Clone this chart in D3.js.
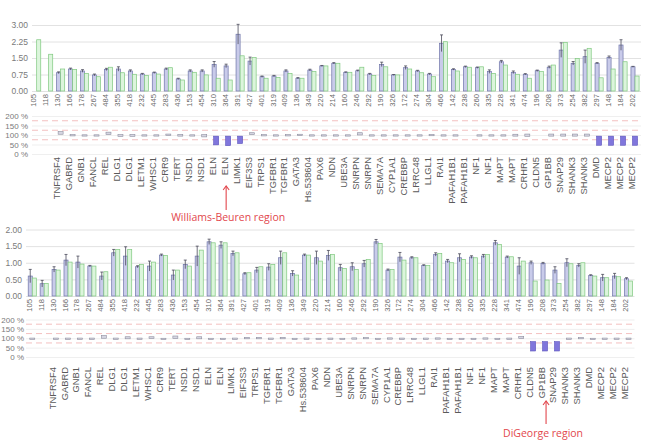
<!DOCTYPE html>
<html lang="en">
<head>
<meta charset="UTF-8">
<title>MLPA probe ratios</title>
<script src="https://cdn.jsdelivr.net/npm/d3@7/dist/d3.min.js"></script>
<style>
  * { margin: 0; padding: 0; box-sizing: border-box; }
  body { background: #fff; width: 645px; height: 442px; overflow: hidden; }
  text { font-family: 'Liberation Sans', Arial, sans-serif; }
  .ax text { fill: #7a7a7a; font-size: 8.5px; }
  .ax.pct text { font-size: 8px; }
  .ax .domain { display: none; }
  .num { fill: #6a6a6a; font-size: 7.6px; }
  .gene { fill: #5a5a5a; font-size: 9.4px; }
  .note { fill: #e2474d; font-family: 'Open Sans', sans-serif; font-size: 10.5px; }
</style>
</head>
<body>
<div id="chart"></div>
<script>
// ─── Data ────────────────────────────────────────────────────────────────────

const probes = ['105','118','130','166','178','267','484','355','418','232','445','283','436','153','454',
  '310','364','391','427','401','319','409','136','349','220','214','160','246','292','190','326','172',
  '274','304','466','142','238','260','335','228','341','474','196','208','373','254','382','297','148','184','202'];

const genes = ['','','TNFRSF4','GABRD','GNB1','FANCL','REL','DLG1','DLG1','LETM1','WHSC1','CRR9','TERT',
  'NSD1','NSD1','ELN','ELN','LIMK1','EIF3S3','TRPS1','TGFBR1','TGFBR1','GATA3','Hs.538604','PAX6','NDN',
  'UBE3A','SNRPN','SNRPN','SEMA7A','CYP1A1','CREBBP','LRRC48','LLGL1','RAI1','PAFAH1B1','PAFAH1B1','NF1',
  'NF1','MAPT','MAPT','CRHR1','CLDN5','GP1BB','SNAP29','SHANK3','SHANK3','DMD','MECP2','MECP2','MECP2'];

// top sample
const topBlue  = [null,null,0.83,1.00,0.91,0.73,0.98,1.00,0.91,0.77,0.83,1.00,0.55,0.91,0.91,1.21,1.14,2.58,
  1.36,0.65,0.68,0.91,0.58,0.95,1.14,1.26,0.85,0.92,0.77,1.21,0.73,1.06,0.91,0.77,2.17,0.98,1.10,1.06,0.88,
  1.33,0.85,0.76,0.92,1.08,1.86,1.26,1.56,1.26,1.53,2.09,1.10];
const topGreen = [2.33,1.67,1.00,0.98,0.80,0.65,1.08,0.83,0.76,0.70,0.77,1.06,0.50,0.85,0.73,0.58,0.50,1.60,
  1.52,0.58,0.62,0.80,0.58,0.88,1.14,1.26,0.85,1.08,0.70,1.10,0.73,1.00,0.83,0.65,2.24,0.91,1.08,1.10,0.80,
  1.18,0.76,0.58,0.88,1.18,2.21,1.48,1.94,0.60,1.00,1.33,0.68];
const topErr   = [0,0,0.04,0.04,0.06,0.04,0.05,0.10,0.05,0.03,0.03,0.04,0.03,0.05,0.05,0.13,0.08,0.45,
  0.18,0.03,0.03,0.05,0.03,0.04,0.02,0.03,0.02,0.03,0.03,0.10,0.02,0.08,0.03,0.03,0.38,0.03,0.03,0.03,0.08,
  0.06,0.06,0.03,0.03,0.05,0.33,0.08,0.30,0.03,0.06,0.24,0.02];
const topPctLo = [null,null,104,98,97,96,102,92,93,96,96,100,94,99,90,48,44,55,102,97,98,95,99,96,99,
  98,98,100,98,98,99,98,98,96,97,98,null,98,98,98,94,93,null,94,94,94,94,46,46,46,46];
const topPctHi = [null,null,118,102,101,101,115,102,103,101,101,105,103,101,102,94,94,94,112,102,101,102,104,101,101,
  101,101,112,101,101,101,101,101,103,101,101,null,101,101,101,104,105,null,105,105,105,105,94,94,94,94];

// bottom sample
const botBlue  = [0.60,0.37,0.80,1.08,1.02,0.90,0.60,1.30,1.20,0.88,0.90,1.23,0.63,0.95,1.20,1.63,1.53,1.28,
  0.67,0.78,0.87,1.15,0.68,1.23,1.15,1.22,0.85,0.88,0.97,1.63,0.78,1.17,1.15,0.92,1.25,1.05,1.15,1.17,1.20,
  1.60,1.17,0.90,1.00,0.98,0.78,1.00,0.92,0.62,0.55,0.60,0.52];
const botGreen = [0.54,0.38,0.78,1.02,0.96,0.90,0.73,1.40,1.40,0.95,1.02,1.22,0.78,0.90,1.38,1.60,1.60,1.30,
  0.70,0.88,0.95,1.30,0.63,1.23,1.05,1.25,0.83,0.80,1.10,1.58,0.80,1.08,1.15,0.92,1.28,1.00,1.10,1.15,1.25,
  1.55,1.18,1.05,0.45,0.48,0.38,0.97,1.00,0.60,0.55,0.58,0.45];
const botErr   = [0.20,0.10,0.08,0.17,0.18,0.02,0.12,0.10,0.28,0.03,0.15,0.03,0.15,0.13,0.30,0.08,0.10,0.07,
  0.03,0.08,0.10,0.20,0.08,0.03,0.20,0.15,0.10,0.12,0.10,0.07,0.03,0.14,0.03,0.02,0.05,0.05,0.12,0.04,0.05,
  0.07,0.03,0.25,0.05,0.03,0.10,0.12,0.05,0.02,0.10,0.08,0.03];
const botPctLo = [96,null,99,98,96,99,100,97,97,98,98,99,98,99,97,99,99,98,97,97,98,97,99,99,97,
  99,99,98,99,99,98,98,99,99,98,99,99,99,98,99,98,98,32,32,32,98,97,99,98,99,97];
const botPctHi = [101,null,101,101,101,101,115,101,108,101,108,100,112,100,108,100,100,101,105,105,101,105,100,101,100,
  101,100,102,104,100,102,101,100,101,102,100,100,100,102,100,101,110,82,82,82,101,104,100,101,101,101];

const barTicksTop = [0, 0.75, 1.5, 2.25, 3];
const barTicksBot = [0, 0.5, 1, 1.5, 2];
const pctTicks    = [0, 50, 100, 150, 200];
const pctLimits   = [75, 125, 175];

// ─── Drawing ─────────────────────────────────────────────────────────────────

const svg = d3.select('#chart').append('svg').attr('width', 645).attr('height', 442);

function drawSet(o) {
  const x = d3.scaleBand().domain(probes).range(o.xRange);
  const y = d3.scaleLinear().domain([0, o.yMax]).range(o.yRange);
  const p = d3.scaleLinear().domain([0, 200]).range(o.pRange);
  const bw = x.bandwidth() * 0.34;
  const cx = i => x(probes[i]) + x.bandwidth() / 2;
  const right = o.xRange[1];
  const g = svg.append('g');

  // bar axis + grid
  g.append('g').attr('class', 'ax')
    .attr('transform', `translate(${o.axisX},0)`)
    .call(d3.axisLeft(y).tickValues(o.ticks).tickFormat(d3.format('.2f'))
      .tickSize(-(right - o.axisX)).tickPadding(4))
    .call(s => s.selectAll('line').attr('stroke', '#e2e2e2'));

  // bars
  const rows = probes.map((k, i) => ({ i, b: o.blue[i], gr: o.green[i], e: o.err[i], lo: o.lo[i], hi: o.hi[i] }));

  g.selectAll('.bb').data(rows.filter(d => d.b != null)).enter().append('rect')
    .attr('x', d => cx(d.i) - bw).attr('width', bw)
    .attr('y', d => y(d.b)).attr('height', d => y(0) - y(d.b))
    .attr('fill', '#c9cbea').attr('stroke', '#6e74a8').attr('stroke-width', 0.7);

  g.selectAll('.gb').data(rows.filter(d => d.gr != null)).enter().append('rect')
    .attr('x', d => cx(d.i)).attr('width', bw)
    .attr('y', d => y(d.gr)).attr('height', d => y(0) - y(d.gr))
    .attr('fill', '#dcf5dc').attr('stroke', '#7fc87f').attr('stroke-width', 0.7);

  // error bars on blue
  const eb = g.selectAll('.eb').data(rows.filter(d => d.b != null && d.e > 0)).enter().append('g')
    .attr('stroke', '#4a4a5a').attr('stroke-width', 0.8);
  eb.append('line')
    .attr('x1', d => cx(d.i) - bw / 2).attr('x2', d => cx(d.i) - bw / 2)
    .attr('y1', d => y(d.b - d.e)).attr('y2', d => y(d.b + d.e));
  eb.append('line')
    .attr('x1', d => cx(d.i) - bw / 2 - 1.5).attr('x2', d => cx(d.i) - bw / 2 + 1.5)
    .attr('y1', d => y(d.b + d.e)).attr('y2', d => y(d.b + d.e));

  // probe numbers
  g.selectAll('.num').data(probes).enter().append('text').attr('class', 'num')
    .attr('text-anchor', 'end')
    .attr('transform', (d, i) => `translate(${cx(i) - 0.5},${o.numY}) rotate(-90)`)
    .text(d => d);

  // percentage panel
  g.append('g').attr('class', 'ax pct')
    .attr('transform', `translate(${o.axisX},0)`)
    .call(d3.axisLeft(p).tickValues(pctTicks).tickFormat(d => d + ' %')
      .tickSize(-(right - o.axisX)).tickPadding(o.pctPad))
    .call(s => s.selectAll('line').attr('stroke', '#efefef'));

  g.selectAll('.lim').data(pctLimits).enter().append('line')
    .attr('x1', o.axisX).attr('x2', right)
    .attr('y1', d => p(d)).attr('y2', d => p(d))
    .attr('stroke', '#f2b9b9').attr('stroke-width', 0.9).attr('stroke-dasharray', '6,4');

  const pw = 5;
  g.selectAll('.pbox').data(rows.filter(d => d.lo != null)).enter().append('rect')
    .attr('x', d => cx(d.i) - pw / 2).attr('width', pw)
    .attr('y', d => p(d.hi)).attr('height', d => Math.max(1.3, p(d.lo) - p(d.hi)))
    .attr('fill', d => d.lo < 70 ? '#8076dc' : '#d6d6e2')
    .attr('stroke', d => d.lo < 70 ? '#5c54bc' : '#8e8e9e')
    .attr('stroke-width', 0.6);

  // gene labels
  g.selectAll('.gene').data(genes).enter().append('text').attr('class', 'gene')
    .attr('text-anchor', 'end')
    .attr('transform', (d, i) => `translate(${cx(i) - 0.5},${o.geneY}) rotate(-90)`)
    .text(d => d);

  // region annotation
  const ax = cx(probes.indexOf(o.mark)) + o.markDx;
  const a = svg.append('g').attr('stroke', '#e2474d').attr('stroke-width', 1.1).attr('fill', 'none');
  a.append('line').attr('x1', ax).attr('x2', ax).attr('y1', o.arrow[0]).attr('y2', o.arrow[1]);
  a.append('polyline').attr('points', `${ax - 3},${o.arrow[0] + 4} ${ax},${o.arrow[0]} ${ax + 3},${o.arrow[0] + 4}`);
  svg.append('text').attr('class', 'note').attr('text-anchor', 'middle')
    .attr('x', ax + o.noteDx).attr('y', o.noteY).text(o.note);
}

drawSet({
  xRange: [30.7, 641], axisX: 32, yMax: 3, yRange: [91, 25], ticks: barTicksTop,
  pRange: [154, 116], numY: 94, geneY: 157, pctPad: 4,
  blue: topBlue, green: topGreen, err: topErr, lo: topPctLo, hi: topPctHi,
  mark: '364', markDx: -2, arrow: [186, 210], note: 'Williams-Beuren region', noteDx: 2, noteY: 221
});

drawSet({
  xRange: [26.3, 634.5], axisX: 26, yMax: 2, yRange: [296, 229.5], ticks: barTicksBot,
  pRange: [357, 319.5], numY: 299, geneY: 367, pctPad: 2,
  blue: botBlue, green: botGreen, err: botErr, lo: botPctLo, hi: botPctHi,
  mark: '208', markDx: 1, arrow: [401, 424], note: 'DiGeorge region', noteDx: -3, noteY: 437
});
</script>
</body>
</html>
